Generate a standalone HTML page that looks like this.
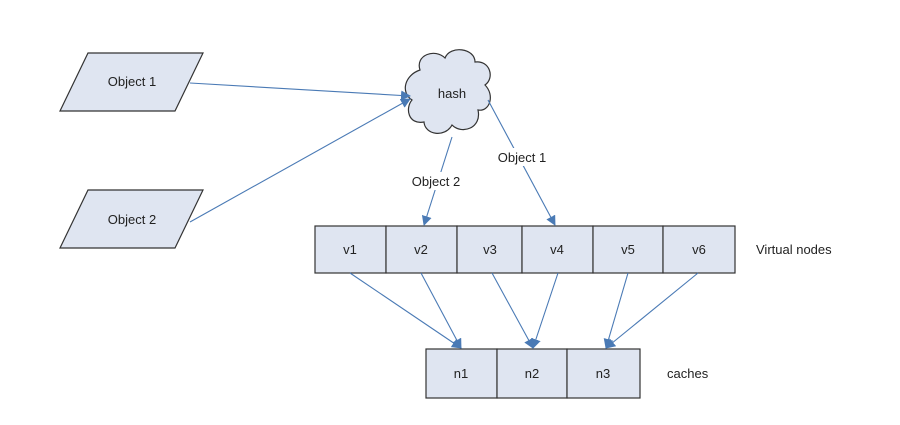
<!DOCTYPE html>
<html><head><style>
body{margin:0;background:#fff;}
svg text{font-family:"Liberation Sans",sans-serif;font-size:13px;fill:#222;}
</style></head><body>
<svg width="900" height="420" viewBox="0 0 900 420" xmlns="http://www.w3.org/2000/svg">
<defs>
<marker id="a" markerWidth="10" markerHeight="10" refX="9" refY="5" orient="auto" markerUnits="userSpaceOnUse">
<path d="M0,0 L10,5 L0,10 z" fill="#4a7ab5"/></marker>
</defs>
<g fill="#dfe5f1" stroke="#333" stroke-width="1.2">
<polygon points="88,53 203,53 175,111 60,111"/>
<polygon points="88,190 203,190 175,248 60,248"/>
<path d="M420,70 C415,55 435,48 445,58 C450,45 475,48 475,62 C490,60 495,78 485,85 C495,95 490,112 478,110 C482,128 462,135 452,125 C445,138 425,135 424,122 C408,125 405,108 412,100 C400,92 405,75 420,70 z"/>
</g>
<g fill="#dfe5f1" stroke="#333" stroke-width="1.2">
<rect x="315" y="226" width="71" height="47"/><rect x="386" y="226" width="71" height="47"/>
<rect x="457" y="226" width="65" height="47"/><rect x="522" y="226" width="71" height="47"/>
<rect x="593" y="226" width="70" height="47"/><rect x="663" y="226" width="72" height="47"/>
<rect x="426" y="349" width="71" height="49"/><rect x="497" y="349" width="70" height="49"/>
<rect x="567" y="349" width="73" height="49"/>
</g>
<g stroke="#4a7ab5" stroke-width="1.1" fill="none" marker-end="url(#a)">
<line x1="190" y1="83" x2="410" y2="96"/>
<line x1="190" y1="222" x2="410" y2="99"/>
<line x1="452" y1="137" x2="424" y2="225"/>
<line x1="488" y1="100" x2="555" y2="225"/>
<line x1="350" y1="273" x2="461" y2="348"/>
<line x1="421" y1="273" x2="461" y2="348"/>
<line x1="492" y1="273" x2="533" y2="348"/>
<line x1="558" y1="273" x2="533" y2="348"/>
<line x1="628" y1="273" x2="606" y2="348"/>
<line x1="698" y1="273" x2="606" y2="348"/>
</g>
<text x="132" y="86" text-anchor="middle">Object 1</text>
<text x="132" y="224" text-anchor="middle">Object 2</text>
<text x="452" y="98" text-anchor="middle">hash</text>
<rect x="403" y="172" width="66" height="18" fill="#fff"/>
<text x="436" y="186" text-anchor="middle">Object 2</text>
<rect x="489" y="148" width="66" height="18" fill="#fff"/>
<text x="522" y="162" text-anchor="middle">Object 1</text>
<text x="350" y="254" text-anchor="middle">v1</text>
<text x="421" y="254" text-anchor="middle">v2</text>
<text x="490" y="254" text-anchor="middle">v3</text>
<text x="557" y="254" text-anchor="middle">v4</text>
<text x="628" y="254" text-anchor="middle">v5</text>
<text x="699" y="254" text-anchor="middle">v6</text>
<text x="461" y="378" text-anchor="middle">n1</text>
<text x="532" y="378" text-anchor="middle">n2</text>
<text x="603" y="378" text-anchor="middle">n3</text>
<text x="756" y="254">Virtual nodes</text>
<text x="667" y="378">caches</text>
</svg>
</body></html>
